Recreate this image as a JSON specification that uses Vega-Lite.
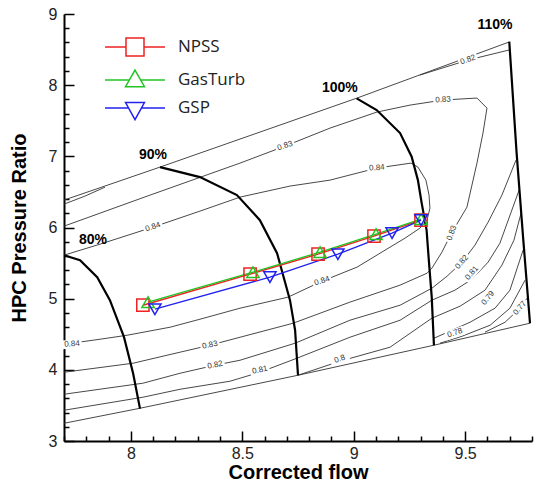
{
  "$schema": "https://vega.github.io/schema/vega-lite/v6.json",
  "width": 468,
  "height": 427,
  "autosize": {"type": "none"},
  "padding": {"left": 64, "top": 14, "right": 5, "bottom": 43},
  "background": "white",
  "config": {"view": {"stroke": null}},
  "datasets": {
    "speed": [
      {"id":"s80","o":1,"x":7.7,"y":5.611},{"id":"s80","o":2,"x":7.772,"y":5.54},{"id":"s80","o":3,"x":7.849,"y":5.303},{"id":"s80","o":4,"x":7.906,"y":4.979},{"id":"s80","o":5,"x":7.969,"y":4.462},{"id":"s80","o":6,"x":8.01,"y":3.952},{"id":"s80","o":7,"x":8.041,"y":3.455},
      {"id":"s90","o":1,"x":8.131,"y":6.849},{"id":"s90","o":2,"x":8.31,"y":6.708},{"id":"s90","o":3,"x":8.476,"y":6.455},{"id":"s90","o":4,"x":8.579,"y":6.103},{"id":"s90","o":5,"x":8.656,"y":5.64},{"id":"s90","o":6,"x":8.714,"y":4.979},{"id":"s90","o":7,"x":8.737,"y":4.557},{"id":"s90","o":8,"x":8.75,"y":3.924},
      {"id":"s100","o":1,"x":9.013,"y":7.815},{"id":"s100","o":2,"x":9.103,"y":7.65},{"id":"s100","o":3,"x":9.208,"y":7.327},{"id":"s100","o":4,"x":9.26,"y":6.994},{"id":"s100","o":5,"x":9.288,"y":6.666},{"id":"s100","o":6,"x":9.305,"y":6.343},{"id":"s100","o":7,"x":9.327,"y":5.963},{"id":"s100","o":8,"x":9.338,"y":5.499},{"id":"s100","o":9,"x":9.35,"y":5.025},{"id":"s100","o":10,"x":9.36,"y":4.346},
      {"id":"s110","o":1,"x":9.698,"y":8.611},{"id":"s110","o":2,"x":9.731,"y":7.046},{"id":"s110","o":3,"x":9.761,"y":5.822},{"id":"s110","o":4,"x":9.791,"y":4.655}
    ],
    "thin": [
      {"id":"surge","o":1,"x":7.7,"y":6.385},{"id":"surge","o":2,"x":8.131,"y":6.849},{"id":"surge","o":3,"x":9.015,"y":7.819},{"id":"surge","o":4,"x":9.697,"y":8.606},
      {"id":"bound","o":1,"x":7.7,"y":3.249},{"id":"bound","o":2,"x":8.041,"y":3.46},{"id":"bound","o":3,"x":8.75,"y":3.924},{"id":"bound","o":4,"x":9.36,"y":4.346},{"id":"bound","o":5,"x":9.791,"y":4.655},
      {"id":"c84","o":1,"x":7.7,"y":5.611},{"id":"c84","o":2,"x":7.862,"y":5.766},{"id":"c84","o":3,"x":8.099,"y":6.005},{"id":"c84","o":4,"x":8.31,"y":6.23},{"id":"c84","o":5,"x":8.49,"y":6.427},{"id":"c84","o":6,"x":8.714,"y":6.582},{"id":"c84","o":7,"x":8.894,"y":6.666},{"id":"c84","o":8,"x":9.104,"y":6.835},{"id":"c84","o":9,"x":9.257,"y":6.905},{"id":"c84","o":10,"x":9.288,"y":6.849},{"id":"c84","o":11,"x":9.324,"y":6.666},{"id":"c84","o":12,"x":9.338,"y":6.455},{"id":"c84","o":13,"x":9.342,"y":6.272},{"id":"c84","o":14,"x":9.329,"y":6.103},{"id":"c84","o":15,"x":9.297,"y":5.991},{"id":"c84","o":16,"x":9.23,"y":5.85},{"id":"c84","o":17,"x":9.163,"y":5.724},{"id":"c84","o":18,"x":9.015,"y":5.443},{"id":"c84","o":19,"x":8.858,"y":5.246},{"id":"c84","o":20,"x":8.705,"y":5.021},{"id":"c84","o":21,"x":8.49,"y":4.866},{"id":"c84","o":22,"x":8.31,"y":4.711},{"id":"c84","o":23,"x":8.176,"y":4.599},{"id":"c84","o":24,"x":7.983,"y":4.486},{"id":"c84","o":25,"x":7.862,"y":4.43},{"id":"c84","o":26,"x":7.7,"y":4.36},
      {"id":"c83","o":1,"x":7.7,"y":6.019},{"id":"c83","o":2,"x":8.086,"y":6.455},{"id":"c83","o":3,"x":8.49,"y":6.905},{"id":"c83","o":4,"x":8.692,"y":7.144},{"id":"c83","o":5,"x":8.894,"y":7.397},{"id":"c83","o":6,"x":9.104,"y":7.622},{"id":"c83","o":7,"x":9.253,"y":7.72},{"id":"c83","o":8,"x":9.401,"y":7.791},{"id":"c83","o":9,"x":9.553,"y":7.819},{"id":"c83","o":10,"x":9.598,"y":7.678},{"id":"c83","o":11,"x":9.58,"y":7.327},{"id":"c83","o":12,"x":9.553,"y":6.905},{"id":"c83","o":13,"x":9.508,"y":6.286},{"id":"c83","o":14,"x":9.468,"y":6.075},{"id":"c83","o":15,"x":9.432,"y":5.879},{"id":"c83","o":16,"x":9.396,"y":5.654},{"id":"c83","o":17,"x":9.351,"y":5.429},{"id":"c83","o":18,"x":9.329,"y":5.358},{"id":"c83","o":19,"x":9.208,"y":5.19},{"id":"c83","o":20,"x":8.983,"y":4.951},{"id":"c83","o":21,"x":8.728,"y":4.655},{"id":"c83","o":22,"x":8.49,"y":4.458},{"id":"c83","o":23,"x":8.355,"y":4.346},{"id":"c83","o":24,"x":8.221,"y":4.248},{"id":"c83","o":25,"x":8.01,"y":4.093},{"id":"c83","o":26,"x":7.7,"y":3.966},
      {"id":"c82","o":1,"x":7.7,"y":3.657},{"id":"c82","o":2,"x":8.054,"y":3.812},{"id":"c82","o":3,"x":8.221,"y":3.952},{"id":"c82","o":4,"x":8.378,"y":4.065},{"id":"c82","o":5,"x":8.49,"y":4.135},{"id":"c82","o":6,"x":8.737,"y":4.374},{"id":"c82","o":7,"x":8.983,"y":4.697},{"id":"c82","o":8,"x":9.208,"y":4.908},{"id":"c82","o":9,"x":9.351,"y":5.147},{"id":"c82","o":10,"x":9.419,"y":5.316},{"id":"c82","o":11,"x":9.486,"y":5.513},{"id":"c82","o":12,"x":9.544,"y":5.752},{"id":"c82","o":13,"x":9.603,"y":6.075},{"id":"c82","o":14,"x":9.665,"y":6.455},{"id":"c82","o":15,"x":9.728,"y":6.946},
      {"id":"c82a","o":1,"x":7.7,"y":6.328},{"id":"c82a","o":2,"x":7.794,"y":6.441},{"id":"c82a","o":3,"x":7.884,"y":6.567},
      {"id":"c82b","o":1,"x":9.297,"y":8.142},{"id":"c82b","o":2,"x":9.513,"y":8.353},{"id":"c82b","o":3,"x":9.697,"y":8.494},
      {"id":"c81","o":1,"x":7.7,"y":3.432},{"id":"c81","o":2,"x":8.054,"y":3.615},{"id":"c81","o":3,"x":8.221,"y":3.727},{"id":"c81","o":4,"x":8.445,"y":3.84},{"id":"c81","o":5,"x":8.579,"y":3.966},{"id":"c81","o":6,"x":8.745,"y":4.163},{"id":"c81","o":7,"x":8.983,"y":4.458},{"id":"c81","o":8,"x":9.208,"y":4.697},{"id":"c81","o":9,"x":9.351,"y":4.979},{"id":"c81","o":10,"x":9.454,"y":5.119},{"id":"c81","o":11,"x":9.531,"y":5.274},{"id":"c81","o":12,"x":9.603,"y":5.513},{"id":"c81","o":13,"x":9.656,"y":5.78},{"id":"c81","o":14,"x":9.742,"y":6.525},
      {"id":"c80","o":1,"x":8.75,"y":3.924},{"id":"c80","o":2,"x":8.938,"y":4.121},{"id":"c80","o":3,"x":9.163,"y":4.318},{"id":"c80","o":4,"x":9.351,"y":4.726},{"id":"c80","o":5,"x":9.477,"y":4.894},{"id":"c80","o":6,"x":9.589,"y":5.119},{"id":"c80","o":7,"x":9.665,"y":5.471},{"id":"c80","o":8,"x":9.719,"y":5.822},{"id":"c80","o":9,"x":9.751,"y":6.202},
      {"id":"c79","o":1,"x":9.36,"y":4.444},{"id":"c79","o":2,"x":9.522,"y":4.669},{"id":"c79","o":3,"x":9.634,"y":4.866},{"id":"c79","o":4,"x":9.701,"y":5.119},{"id":"c79","o":5,"x":9.76,"y":5.682},
      {"id":"c78","o":1,"x":9.387,"y":4.374},{"id":"c78","o":2,"x":9.486,"y":4.472},{"id":"c78","o":3,"x":9.612,"y":4.627},{"id":"c78","o":4,"x":9.701,"y":4.866},{"id":"c78","o":5,"x":9.769,"y":5.26},
      {"id":"c77","o":1,"x":9.589,"y":4.529},{"id":"c77","o":2,"x":9.679,"y":4.669},{"id":"c77","o":3,"x":9.746,"y":4.866},{"id":"c77","o":4,"x":9.778,"y":5.007}
    ],
    "labels": [
      {"id":"l1","t":"0.84","x":8.099,"y":6.005},{"id":"l2","t":"0.83","x":8.692,"y":7.144},{"id":"l3","t":"0.82","x":9.513,"y":8.353},{"id":"l4","t":"0.83","x":9.401,"y":7.791},{"id":"l5","t":"0.84","x":9.104,"y":6.835},{"id":"l6","t":"0.84","x":8.858,"y":5.246},{"id":"l7","t":"0.84","x":7.736,"y":4.36},{"id":"l8","t":"0.83","x":8.355,"y":4.346},{"id":"l9","t":"0.82","x":8.378,"y":4.065},{"id":"l10","t":"0.81","x":8.579,"y":3.994},{"id":"l11","t":"0.8","x":8.938,"y":4.149},{"id":"l12","t":"0.83","x":9.441,"y":5.921},{"id":"l13","t":"0.82","x":9.486,"y":5.513},{"id":"l14","t":"0.81","x":9.531,"y":5.358},{"id":"l15","t":"0.79","x":9.603,"y":5.007},{"id":"l16","t":"0.77","x":9.746,"y":4.866},{"id":"l17","t":"0.78","x":9.454,"y":4.515}
    ],
    "speedlab": [
      {"t":"80%","x":7.83,"y":5.822},{"t":"90%","x":8.099,"y":7.017},{"t":"100%","x":8.938,"y":7.96},{"t":"110%","x":9.634,"y":8.845}
    ],
    "sim": [
      {"s":"NPSS","x":8.054,"y":4.908},{"s":"NPSS","x":8.535,"y":5.344},{"s":"NPSS","x":8.84,"y":5.625},{"s":"NPSS","x":9.091,"y":5.879},{"s":"NPSS","x":9.302,"y":6.103},
      {"s":"GasTurb","x":8.077,"y":4.951},{"s":"GasTurb","x":8.548,"y":5.372},{"s":"GasTurb","x":8.849,"y":5.654},{"s":"GasTurb","x":9.1,"y":5.907},{"s":"GasTurb","x":9.302,"y":6.118},
      {"s":"GSP","x":8.108,"y":4.852},{"s":"GSP","x":8.624,"y":5.302},{"s":"GSP","x":8.929,"y":5.625},{"s":"GSP","x":9.172,"y":5.921},{"s":"GSP","x":9.302,"y":6.103}
    ]
  },
  "layer": [
    {
      "data": {"name": "thin"},
      "mark": {"type": "line", "stroke": "#333", "strokeWidth": 0.9},
      "encoding": {
        "x": {"field": "x", "type": "quantitative", "scale": {"domain": [7.7, 9.8], "nice": false, "zero": false},
          "axis": {"orient": "bottom", "title": "Corrected flow", "titleFont": "Liberation Sans", "titleFontSize": 20, "titleFontWeight": "bold", "titleColor": "black", "titlePadding": 1,
            "values": [8, 8.5, 9, 9.5], "format": "~g",
            "labelFont": "Liberation Sans", "labelFontSize": 16, "labelColor": "#222", "labelPadding": 14, "labelFlush": false, "labelOverlap": false,
            "tickSize": -10, "tickColor": "black", "tickWidth": 1.5, "domainColor": "black", "domainWidth": 2, "grid": false}},
        "y": {"field": "y", "type": "quantitative", "scale": {"domain": [3, 9], "nice": false, "zero": false},
          "axis": {"orient": "left", "title": "HPC Pressure Ratio", "titleFont": "Liberation Sans", "titleFontSize": 20, "titleFontWeight": "bold", "titleColor": "black", "titlePadding": 19,
            "values": [3, 4, 5, 6, 7, 8, 9], "format": "~g",
            "labelFont": "Liberation Sans", "labelFontSize": 16, "labelColor": "#222", "labelPadding": 17, "labelFlush": false, "labelOverlap": false,
            "tickSize": -10, "tickColor": "black", "tickWidth": 1.5, "domainColor": "black", "domainWidth": 2, "grid": false}},
        "detail": {"field": "id"},
        "order": {"field": "o"}
      }
    },
    {
      "data": {"name": "labels"}, "transform": [{"filter": {"field": "id", "oneOf": ["l4","l5","l7"]}}],
      "mark": {"type": "point", "shape": "M-1,-0.45H1V0.45H-1Z", "filled": true, "fill": "white", "strokeWidth": 0, "size": 380, "opacity": 1, "angle": -4},
      "encoding": {"x": {"field": "x", "type": "quantitative", "axis": null}, "y": {"field": "y", "type": "quantitative", "axis": null}}
    },
    {
      "data": {"name": "labels"}, "transform": [{"filter": {"field": "id", "oneOf": ["l4","l5","l7"]}}],
      "mark": {"type": "text", "angle": -4, "font": "Liberation Sans", "fontSize": 8, "fill": "#333"},
      "encoding": {"x": {"field": "x", "type": "quantitative", "axis": null}, "y": {"field": "y", "type": "quantitative", "axis": null}, "text": {"field": "t"}}
    },
    {
      "data": {"name": "labels"}, "transform": [{"filter": {"field": "id", "oneOf": ["l8","l9","l10"]}}],
      "mark": {"type": "point", "shape": "M-1,-0.45H1V0.45H-1Z", "filled": true, "fill": "white", "strokeWidth": 0, "size": 380, "opacity": 1, "angle": -12},
      "encoding": {"x": {"field": "x", "type": "quantitative", "axis": null}, "y": {"field": "y", "type": "quantitative", "axis": null}}
    },
    {
      "data": {"name": "labels"}, "transform": [{"filter": {"field": "id", "oneOf": ["l8","l9","l10"]}}],
      "mark": {"type": "text", "angle": -12, "font": "Liberation Sans", "fontSize": 8, "fill": "#333"},
      "encoding": {"x": {"field": "x", "type": "quantitative", "axis": null}, "y": {"field": "y", "type": "quantitative", "axis": null}, "text": {"field": "t"}}
    },
    {
      "data": {"name": "labels"}, "transform": [{"filter": {"field": "id", "oneOf": ["l1","l2","l3","l6","l11","l17"]}}],
      "mark": {"type": "point", "shape": "M-1,-0.45H1V0.45H-1Z", "filled": true, "fill": "white", "strokeWidth": 0, "size": 380, "opacity": 1, "angle": -19},
      "encoding": {"x": {"field": "x", "type": "quantitative", "axis": null}, "y": {"field": "y", "type": "quantitative", "axis": null}}
    },
    {
      "data": {"name": "labels"}, "transform": [{"filter": {"field": "id", "oneOf": ["l1","l2","l3","l6","l11","l17"]}}],
      "mark": {"type": "text", "angle": -19, "font": "Liberation Sans", "fontSize": 8, "fill": "#333"},
      "encoding": {"x": {"field": "x", "type": "quantitative", "axis": null}, "y": {"field": "y", "type": "quantitative", "axis": null}, "text": {"field": "t"}}
    },
    {
      "data": {"name": "labels"}, "transform": [{"filter": {"field": "id", "oneOf": ["l13","l14","l15","l16"]}}],
      "mark": {"type": "point", "shape": "M-1,-0.45H1V0.45H-1Z", "filled": true, "fill": "white", "strokeWidth": 0, "size": 380, "opacity": 1, "angle": -50},
      "encoding": {"x": {"field": "x", "type": "quantitative", "axis": null}, "y": {"field": "y", "type": "quantitative", "axis": null}}
    },
    {
      "data": {"name": "labels"}, "transform": [{"filter": {"field": "id", "oneOf": ["l13","l14","l15","l16"]}}],
      "mark": {"type": "text", "angle": -50, "font": "Liberation Sans", "fontSize": 8, "fill": "#333"},
      "encoding": {"x": {"field": "x", "type": "quantitative", "axis": null}, "y": {"field": "y", "type": "quantitative", "axis": null}, "text": {"field": "t"}}
    },
    {
      "data": {"name": "labels"}, "transform": [{"filter": {"field": "id", "oneOf": ["l12"]}}],
      "mark": {"type": "point", "shape": "M-1,-0.45H1V0.45H-1Z", "filled": true, "fill": "white", "strokeWidth": 0, "size": 380, "opacity": 1, "angle": -70},
      "encoding": {"x": {"field": "x", "type": "quantitative", "axis": null}, "y": {"field": "y", "type": "quantitative", "axis": null}}
    },
    {
      "data": {"name": "labels"}, "transform": [{"filter": {"field": "id", "oneOf": ["l12"]}}],
      "mark": {"type": "text", "angle": -70, "font": "Liberation Sans", "fontSize": 8, "fill": "#333"},
      "encoding": {"x": {"field": "x", "type": "quantitative", "axis": null}, "y": {"field": "y", "type": "quantitative", "axis": null}, "text": {"field": "t"}}
    },
    {
      "data": {"name": "speed"},
      "mark": {"type": "line", "stroke": "black", "strokeWidth": 2.2},
      "encoding": {
        "x": {"field": "x", "type": "quantitative",
          "axis": {"orient": "bottom", "title": null, "labels": false, "domain": false, "grid": false, "tickSize": -5, "tickColor": "black", "tickWidth": 1.5,
            "values": [7.7,7.8,7.9,8.1,8.2,8.3,8.4,8.6,8.7,8.8,8.9,9.1,9.2,9.3,9.4,9.6,9.7,9.8]}},
        "y": {"field": "y", "type": "quantitative",
          "axis": {"orient": "left", "title": null, "labels": false, "domain": false, "grid": false, "tickSize": -5, "tickColor": "black", "tickWidth": 1.5,
            "values": [3.2,3.4,3.6,3.8,4.2,4.4,4.6,4.8,5.2,5.4,5.6,5.8,6.2,6.4,6.6,6.8,7.2,7.4,7.6,7.8,8.2,8.4,8.6,8.8]}},
        "detail": {"field": "id"}, "order": {"field": "o"}}
    },
    {
      "data": {"name": "speedlab"},
      "mark": {"type": "text", "font": "Liberation Sans", "fontSize": 14, "fontWeight": "bold", "fill": "black"},
      "encoding": {"x": {"field": "x", "type": "quantitative", "axis": null}, "y": {"field": "y", "type": "quantitative", "axis": null}, "text": {"field": "t"}}
    },
    {
      "data": {"name": "sim"},
      "mark": {"type": "line", "strokeWidth": 1.4},
      "encoding": {"x": {"field": "x", "type": "quantitative", "axis": null}, "y": {"field": "y", "type": "quantitative", "axis": null},
        "color": {"field": "s", "type": "nominal", "scale": {"domain": ["NPSS","GasTurb","GSP"], "range": ["#ee2222","#22c422","#2222ee"]}, "legend": null},
        "order": {"field": "x"}}
    },
    {
      "data": {"name": "sim"},
      "mark": {"type": "point", "filled": false, "strokeWidth": 1.5, "size": 150, "opacity": 1},
      "encoding": {"x": {"field": "x", "type": "quantitative", "axis": null}, "y": {"field": "y", "type": "quantitative", "axis": null},
        "color": {"field": "s", "type": "nominal", "scale": {"domain": ["NPSS","GasTurb","GSP"], "range": ["#ee2222","#22c422","#2222ee"]}, "legend": null},
        "shape": {"field": "s", "type": "nominal", "scale": {"domain": ["NPSS","GasTurb","GSP"], "range": ["square","triangle-up","triangle-down"]}, "legend": null}}
    },
    {
      "data": {"name": "sim"}, "transform": [{"filter": "false"}],
      "mark": {"type": "point", "filled": false, "strokeWidth": 1.5, "opacity": 1},
      "encoding": {"x": {"field": "x", "type": "quantitative", "axis": null}, "y": {"field": "y", "type": "quantitative", "axis": null},
        "color": {"field": "s", "type": "nominal", "scale": {"domain": ["NPSS","GasTurb","GSP"], "range": ["#ee2222","#22c422","#2222ee"]},
          "legend": {"title": null, "orient": "none", "legendX": 61, "legendY": 23, "padding": 0, "symbolSize": 324, "symbolStrokeWidth": 1.5, "labelFont": "Open Sans", "labelFontSize": 17, "labelColor": "#222", "labelOffset": 33, "rowPadding": 8}},
        "shape": {"field": "s", "type": "nominal", "scale": {"domain": ["NPSS","GasTurb","GSP"], "range": ["M-3.33,0H-1M1,0H3.33M-1,-1H1V1H-1Z", "M-3.33,0H-0.62M0.62,0H3.33M0,-1.1L1.05,0.75L-1.05,0.75Z", "M-3.33,0H-0.72M0.72,0H3.33M-1.05,-0.6L1.05,-0.6L0,1.3Z"]},
          "legend": {"title": null, "orient": "none", "legendX": 61, "legendY": 23, "padding": 0, "symbolSize": 324, "symbolStrokeWidth": 1.5, "labelFont": "Open Sans", "labelFontSize": 17, "labelColor": "#222", "labelOffset": 33, "rowPadding": 8}}}
    }
  ],
  "resolve": {"scale": {"color": "independent", "shape": "independent"}, "axis": {"x": "independent", "y": "independent"}}
}
